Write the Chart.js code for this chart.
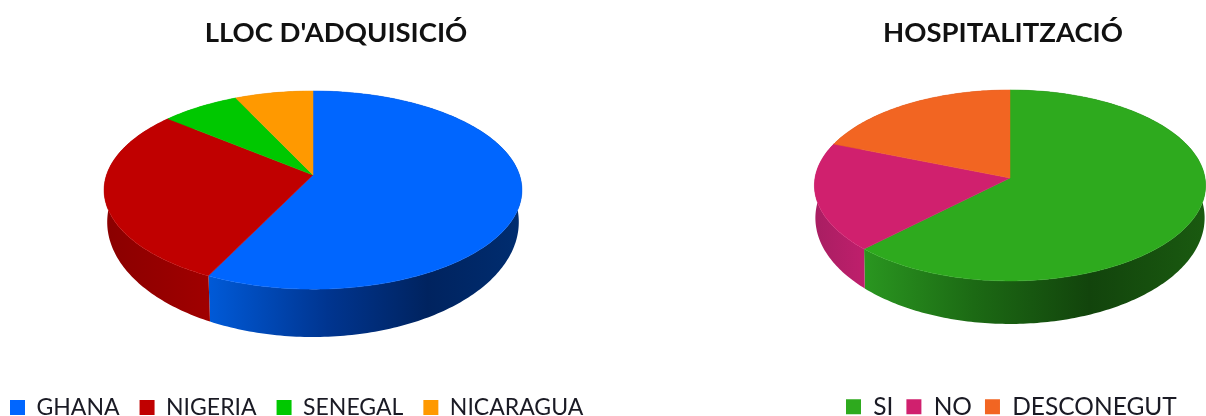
<!DOCTYPE html>
<html><head><meta charset="utf-8">
<script src="https://cdn.jsdelivr.net/npm/chart.js@4"></script>
<style>
html,body{margin:0;padding:0;background:#fff;width:1206px;height:416px;overflow:hidden}
canvas{position:absolute;top:0;filter:blur(0.35px)}
#c1{left:-10px}
#c2{left:800px}
</style></head><body>
<canvas id="c1" width="692" height="429"></canvas>
<canvas id="c2" width="406" height="429"></canvas>
<script>
const titleA = "LLOC D'ADQUISICIÓ";
const categoriesA = ["GHANA","NIGERIA","SENEGAL","NICARAGUA"];
const valuesA = [57.2,28.8,7,7];
const colorsA = ["#0066ff","#c00000","#00c800","#ff9900"];
const wallsA = [
  [[0,"#005ad8"],[0.38,"#003590"],[0.7,"#00235f"],[1,"#002d70"]],
  [[0,"#8a0000"],[1,"#a00000"]],
  [[0,"#009600"],[1,"#009600"]],
  [[0,"#c07000"],[1,"#c07000"]]
];
const titleB = "HOSPITALITZACIÓ";
const categoriesB = ["SI","NO","DESCONEGUT"];
const valuesB = [62.5,18.5,19];
const colorsB = ["#2eaa1e","#d0206e","#f26522"];
const wallsB = [
  [[0,"#2a9620"],[0.32,"#1c6a14"],[0.66,"#12440c"],[1,"#1a5a10"]],
  [[0,"#a81e62"],[1,"#bf1f6c"]],
  [[0,"#b04a18"],[1,"#b04a18"]]
];

const pie3d = {
  id:'pie3d',
  beforeDraw(chart,args,o){
    if(o.titleShift && !chart.$shifted){
      chart.titleBlock.left += o.titleShift;
      chart.titleBlock.right += o.titleShift;
      chart.$shifted = true;
    }
  },
  beforeDatasetsDraw(chart,args,o){
    const ctx = chart.ctx, arcs = chart.getDatasetMeta(0).data;
    const colors = chart.data.datasets[0].backgroundColor;
    const yc = o.cy + o.ry*o.persp/(1-o.persp*o.persp);
    const proj = (a,R,wall)=>{
      const u = Math.cos(a), v = Math.sin(a), w = 1 - o.persp*v;
      const x = R*u/w, y = o.cy + o.ry*v/w;
      return wall ? [o.cx + o.shrink*x, yc + o.wallShift + (y-yc)*o.wallScale] : [o.cx + x, y];
    };
    const samples = (arc,wall)=>{
      const pts=[], n=Math.max(8,Math.ceil((arc.endAngle-arc.startAngle)*60));
      for(let i=0;i<=n;i++) pts.push(proj(arc.startAngle+(arc.endAngle-arc.startAngle)*i/n,arc.outerRadius,wall));
      return pts;
    };
    ctx.save();
    arcs.forEach((arc,i)=>{
      const top=samples(arc,false), bot=samples(arc,true);
      const xs=top.concat(bot).map(p=>p[0]);
      const g=ctx.createLinearGradient(Math.min(...xs),0,Math.max(...xs),0);
      o.walls[i].forEach(st=>g.addColorStop(st[0],st[1]));
      ctx.beginPath();
      top.forEach((p,k)=>k?ctx.lineTo(p[0],p[1]):ctx.moveTo(p[0],p[1]));
      bot.reverse().forEach(p=>ctx.lineTo(p[0],p[1]));
      ctx.closePath();
      ctx.fillStyle=g; ctx.fill();
    });
    arcs.forEach((arc,i)=>{
      ctx.beginPath();
      ctx.moveTo(o.cx,o.cy);
      samples(arc,false).forEach(p=>ctx.lineTo(p[0],p[1]));
      ctx.closePath();
      ctx.fillStyle=colors[i]; ctx.strokeStyle=colors[i]; ctx.lineWidth=0.5;
      ctx.fill(); ctx.stroke();
    });
    ctx.restore();
    return false;
  }
};

function makePie(id,title,labels,values,colors,walls,radius,geom,pad,titleSize,legendSize,legendGap){
  return new Chart(document.getElementById(id),{
    type:'pie',
    data:{labels:labels,datasets:[{data:values,backgroundColor:colors,borderWidth:0,radius:radius}]},
    plugins:[pie3d],
    options:{
      responsive:false,animation:false,
      layout:{padding:pad},
      plugins:{
        pie3d:Object.assign({walls:walls},geom),
        tooltip:{enabled:false},
        title:{display:true,text:title,color:'#111',font:{family:'Lato',size:titleSize,weight:'bold'},padding:{top:17,bottom:10}},
        legend:{display:true,position:'bottom',align:'start',
          labels:{boxWidth:15,boxHeight:15,padding:legendGap,color:'#1a1a24',font:{family:'Lato',size:legendSize}}}
      }
    }
  });
}
makePie('c1',titleA,categoriesA,valuesA,colorsA,wallsA,206.5,
  {cx:323,cy:175,ry:96.8,persp:0.152,wallShift:32,wallScale:1.16,shrink:0.985},0,27.5,23,20);
makePie('c2',titleB,categoriesB,valuesB,colorsB,wallsB,195,
  {cx:210,cy:178,ry:94.9,persp:0.078,wallShift:32.5,wallScale:1.11,shrink:0.995,titleShift:-16.5},{left:33},27.5,24.5,13);
</script></body></html>
